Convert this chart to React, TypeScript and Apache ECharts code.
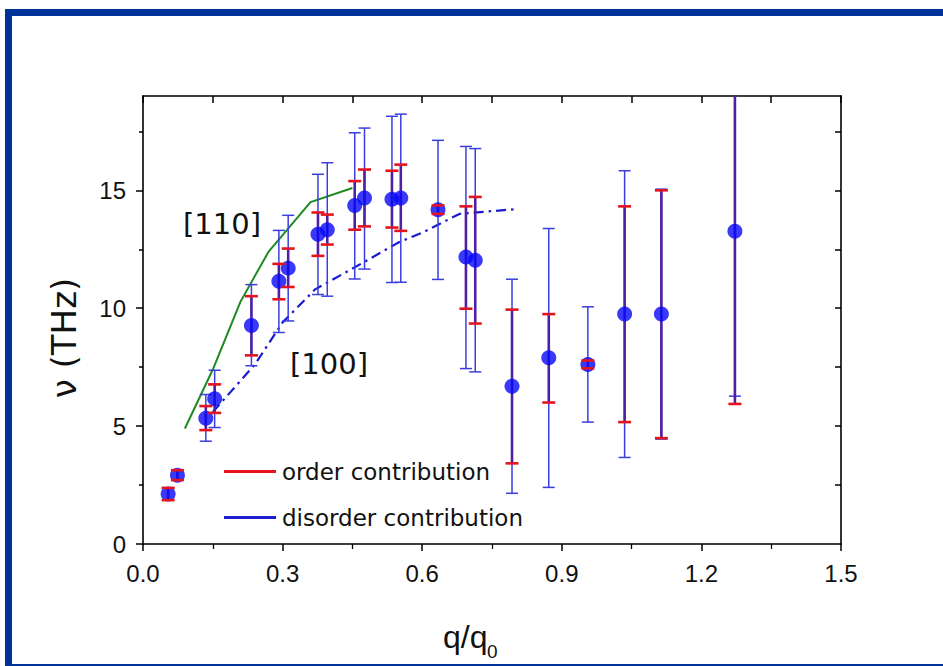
import React, { useEffect, useRef } from 'react';
import * as echarts from 'echarts';

// ---- data ----
const qValues = [0.054, 0.074, 0.135, 0.154, 0.233, 0.292, 0.312, 0.376, 0.396, 0.455, 0.476, 0.535, 0.554, 0.634, 0.694, 0.714, 0.793, 0.872, 0.956, 1.035, 1.114, 1.272];
const nuValues = [2.12, 2.92, 5.33, 6.16, 9.27, 11.14, 11.7, 13.14, 13.33, 14.36, 14.67, 14.62, 14.67, 14.18, 12.17, 12.03, 6.69, 7.9, 7.61, 9.75, 9.75, 13.26];
const orderLow = [1.86, 2.71, 4.83, 5.56, 8.0, 10.38, 10.9, 12.22, 12.7, 13.33, 13.47, 13.42, 13.28, 14.0, 9.98, 9.35, 3.42, 6.0, 7.45, 5.17, 4.49, 5.94];
const orderHigh = [2.38, 3.13, 5.85, 6.77, 10.51, 11.88, 12.53, 14.06, 13.97, 15.39, 15.88, 15.83, 16.09, 14.36, 14.32, 14.72, 9.94, 9.75, 7.78, 14.32, 15.0, 20.6];
const disorderLow = [2.12, 2.92, 4.36, 4.94, 7.56, 8.97, 9.46, 10.58, 10.51, 11.24, 11.66, 11.09, 11.1, 11.22, 7.44, 7.3, 2.15, 2.4, 5.17, 3.67, 4.45, 6.27];
const disorderHigh = [2.12, 2.92, 6.34, 7.37, 11.0, 13.3, 13.94, 15.68, 16.17, 17.44, 17.64, 18.14, 18.23, 17.12, 16.86, 16.77, 11.23, 13.38, 10.06, 15.83, 15.05, 20.25];

const line110Q = [0.09, 0.15, 0.21, 0.27, 0.36, 0.45];
const line110Nu = [4.9, 7.4, 10.3, 12.4, 14.5, 15.1];
const line100Q = [0.15, 0.24, 0.3, 0.37, 0.47, 0.55, 0.6, 0.68, 0.8];
const line100Nu = [5.6, 7.6, 9.4, 10.8, 11.9, 12.8, 13.2, 14.0, 14.2];

const yTickValues = [0, 5, 10, 15];
const yMinorTickValues = [2.5, 7.5, 12.5, 17.5];
const yRightTickValues = [2.5, 5, 7.5, 10, 12.5, 15, 17.5];

const X_MIN = 0;
const X_MAX = 1.5;
const Y_MIN = 0;
const Y_MAX = 19;

const BAR_BLUE = '#3a3ee0';
const STEM_PURPLE = '#4f1fa6';
const CAP_RED = '#e3141e';
const DOT_BLUE = '#0707f7';

function barRenderer(opts: { stem?: { color: string; width: number }; cap?: { color: string; width: number; half: number } }) {
  return (params: any, api: any) => {
    const x = api.value(0);
    const lo = api.value(1);
    const hi = api.value(2);
    const top = Math.min(hi, Y_MAX);
    const bot = Math.max(lo, Y_MIN);
    const p1 = api.coord([x, top]);
    const p2 = api.coord([x, bot]);
    const children: any[] = [];
    if (opts.stem && hi > lo) {
      children.push({
        type: 'line',
        shape: { x1: p1[0], y1: p1[1], x2: p2[0], y2: p2[1] },
        style: { stroke: opts.stem.color, lineWidth: opts.stem.width },
      });
    }
    if (opts.cap && hi > lo) {
      const c = opts.cap;
      if (hi <= Y_MAX) {
        children.push({
          type: 'line',
          shape: { x1: p1[0] - c.half, y1: p1[1], x2: p1[0] + c.half, y2: p1[1] },
          style: { stroke: c.color, lineWidth: c.width },
        });
      }
      children.push({
        type: 'line',
        shape: { x1: p2[0] - c.half, y1: p2[1], x2: p2[0] + c.half, y2: p2[1] },
        style: { stroke: c.color, lineWidth: c.width },
      });
    }
    return { type: 'group', children };
  };
}

export default function App() {
  const ref = useRef<HTMLDivElement>(null);

  useEffect(() => {
    if (!ref.current) return;
    const chart = echarts.init(ref.current, undefined, { renderer: 'svg' });

    const disorderData = qValues.map((q, i) => [q, disorderLow[i], disorderHigh[i]]);
    const orderData = qValues.map((q, i) => [q, orderLow[i], orderHigh[i]]);
    const pointData = qValues.map((q, i) => [q, nuValues[i]]);
    const l110 = line110Q.map((q, i) => [q, line110Nu[i]]);
    const l100 = line100Q.map((q, i) => [q, line100Nu[i]]);

    const axisLine = { show: true, onZero: false, lineStyle: { color: '#000', width: 1.6 } };
    const tickStyle = { color: '#000', width: 1.5 };
    const labelFont = { fontSize: 24, color: '#111', fontFamily: 'Liberation Sans' };

    chart.setOption({
      animation: false,
      backgroundColor: '#ffffff',
      grid: { left: 143, top: 96, width: 698, height: 448, containLabel: false },
      legend: {
        orient: 'vertical',
        left: 219,
        top: 455,
        itemWidth: 52,
        itemHeight: 3,
        itemGap: 23,
        selectedMode: false,
        textStyle: { fontSize: 23, fontFamily: 'DejaVu Sans', color: '#111', padding: [0, 0, 0, 1] },
        data: [
          { name: 'order contribution', icon: 'rect', itemStyle: { color: CAP_RED } },
          { name: 'disorder contribution', icon: 'rect', itemStyle: { color: '#1c1cd0' } },
        ],
      },
      xAxis: [
        {
          type: 'value',
          position: 'bottom',
          min: X_MIN,
          max: X_MAX,
          interval: 0.3,
          axisLine,
          axisTick: { show: true, length: 7, lineStyle: tickStyle },
          minorTick: { show: true, splitNumber: 2, length: 5, lineStyle: { color: '#000', width: 1.3 } },
          axisLabel: { ...labelFont, margin: 17, formatter: (v: number) => v.toFixed(1) },
          splitLine: { show: false },
        },
        {
          type: 'value',
          position: 'top',
          min: X_MIN,
          max: X_MAX,
          interval: 0.15,
          axisLine,
          axisTick: { show: true, inside: true, length: 7, lineStyle: tickStyle },
          axisLabel: { show: false },
          splitLine: { show: false },
        },
      ],
      yAxis: [
        {
          type: 'value',
          position: 'left',
          min: Y_MIN,
          max: Y_MAX,
          interval: 5,
          axisLine,
          axisTick: { show: true, length: 7, lineStyle: tickStyle, customValues: yTickValues },
          axisLabel: { ...labelFont, margin: 17, customValues: yTickValues },
          splitLine: { show: false },
        },
        {
          type: 'value',
          position: 'left',
          min: Y_MIN,
          max: Y_MAX,
          axisLine: { show: false },
          axisTick: { show: true, length: 4, lineStyle: tickStyle, customValues: yMinorTickValues },
          axisLabel: { show: false },
          splitLine: { show: false },
        },
        {
          type: 'value',
          position: 'right',
          min: Y_MIN,
          max: Y_MAX,
          axisLine,
          axisTick: { show: true, inside: true, length: 6, lineStyle: tickStyle, customValues: yRightTickValues },
          axisLabel: { show: false },
          splitLine: { show: false },
        },
      ],
      series: [
        {
          type: 'line',
          name: '[110]',
          data: l110,
          showSymbol: false,
          symbol: 'none',
          lineStyle: { color: '#1d8a22', width: 2 },
          z: 2,
          silent: true,
        },
        {
          type: 'line',
          name: '[100]',
          data: l100,
          showSymbol: false,
          symbol: 'none',
          lineStyle: { color: '#1a1ad0', width: 2.2, type: [10, 5, 2.5, 5] },
          z: 2,
          silent: true,
        },
        {
          type: 'custom',
          name: 'disorder contribution',
          coordinateSystem: 'cartesian2d',
          data: disorderData,
          encode: { x: 0, y: [1, 2] },
          itemStyle: { color: '#1c1cd0' },
          renderItem: barRenderer({ stem: { color: BAR_BLUE, width: 1.5 }, cap: { color: BAR_BLUE, width: 1.5, half: 6 } }),
          z: 3,
          silent: true,
        },
        {
          type: 'custom',
          name: 'order stems',
          coordinateSystem: 'cartesian2d',
          data: orderData,
          encode: { x: 0, y: [1, 2] },
          renderItem: barRenderer({ stem: { color: STEM_PURPLE, width: 2.6 } }),
          z: 4,
          silent: true,
        },
        {
          type: 'scatter',
          name: 'points',
          data: pointData,
          symbol: 'circle',
          symbolSize: 15,
          itemStyle: { color: DOT_BLUE },
          z: 5,
          silent: true,
        },
        {
          type: 'custom',
          name: 'order contribution',
          coordinateSystem: 'cartesian2d',
          data: orderData,
          encode: { x: 0, y: [1, 2] },
          itemStyle: { color: CAP_RED },
          renderItem: barRenderer({ cap: { color: CAP_RED, width: 2.6, half: 6.5 } }),
          z: 6,
          silent: true,
        },
      ],
      graphic: [
        { type: 'rect', shape: { x: 5, y: 9, width: 938, height: 7 }, style: { fill: '#003399' }, silent: true },
        { type: 'rect', shape: { x: 5, y: 9, width: 7, height: 657 }, style: { fill: '#003399' }, silent: true },
        { type: 'rect', shape: { x: 5, y: 664, width: 938, height: 2 }, style: { fill: '#003399' }, silent: true },
        {
          type: 'text',
          x: 222,
          y: 224,
          style: { text: '[110]', fontSize: 29, fontFamily: 'DejaVu Sans', fill: '#111', align: 'center', verticalAlign: 'middle' },
          silent: true,
        },
        {
          type: 'text',
          x: 329,
          y: 364,
          style: { text: '[100]', fontSize: 29, fontFamily: 'DejaVu Sans', fill: '#111', align: 'center', verticalAlign: 'middle' },
          silent: true,
        },
        {
          type: 'text',
          x: 64,
          y: 338,
          rotation: Math.PI / 2,
          style: { text: 'ν (THz)', fontSize: 34, fontFamily: 'DejaVu Sans', fill: '#111', align: 'center', verticalAlign: 'middle' },
          silent: true,
        },
        {
          type: 'text',
          x: 443,
          y: 637,
          style: { text: 'q/q', fontSize: 32, fontFamily: 'Liberation Sans', fill: '#111', align: 'left', verticalAlign: 'middle' },
          silent: true,
        },
        {
          type: 'text',
          x: 487,
          y: 651,
          style: { text: '0', fontSize: 19, fontFamily: 'Liberation Sans', fill: '#111', align: 'left', verticalAlign: 'middle' },
          silent: true,
        },
      ],
    });

    return () => {
      chart.dispose();
    };
  }, []);

  return (
    <div
      ref={ref}
      style={{ position: 'fixed', left: 0, top: 0, width: 943, height: 666, background: '#ffffff' }}
    />
  );
}
